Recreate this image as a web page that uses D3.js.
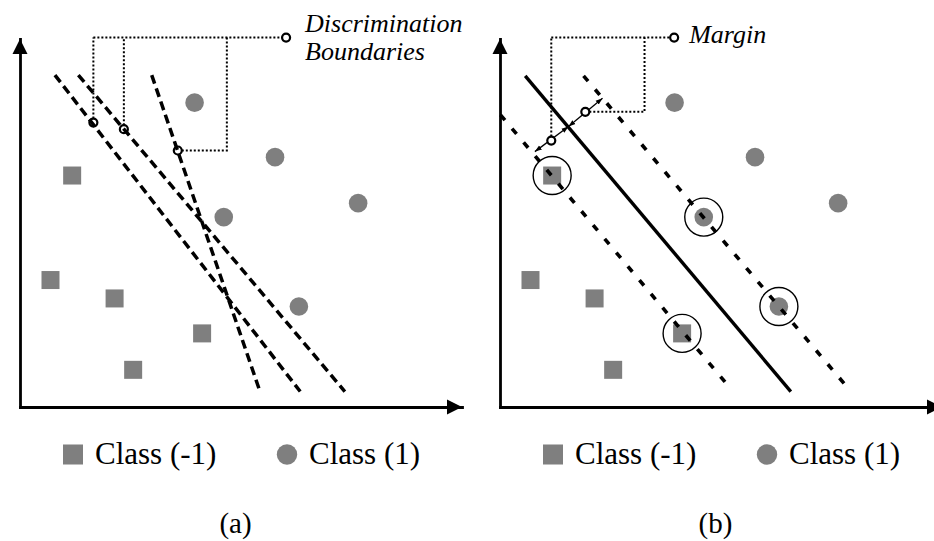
<!DOCTYPE html>
<html><head><meta charset="utf-8">
<script src="https://cdn.jsdelivr.net/npm/d3@7"></script>
<style>html,body{margin:0;padding:0;background:#fff;} svg{display:block;}</style>
</head><body>
<svg id="chart" width="934" height="541"></svg>
<script>
// ---------------- data (plot units, both axes 0..100) ----------------
const classNeg = [[11.8, 62.9], [6.9, 34.5], [21.4, 29.5], [41.2, 20.0], [25.6, 10.1]];   // squares
const classPos = [[39.5, 82.7], [57.7, 67.9], [76.5, 55.4], [46.1, 51.6], [63.1, 27.3]];   // circles
const boundariesA = [
  [[7.9, 90.2], [63.4, 4.2]],
  [[13.2, 90.2], [73.5, 4.2]],
  [[29.8, 90.2], [54.3, 4.2]]
];
const hyperplaneB = [[5.7, 90.0], [65.8, 4.2]];
const marginsB = [
  [[0.1, 79.4], [52.1, 5.1]],
  [[18.9, 90.0], [79.4, 4.2]]
];
const supportNeg = [0, 3];
const supportPos = [3, 4];
const marginArrowsB = [
  [[7.9, 69.4], [15.5, 76.2]],
  [[15.5, 76.2], [23.2, 83.9]]
];
const annotationA = { labels: ["Discrimination", "Boundaries"], tip: [60.2, 100.4],
  pins: [[16.6, 77.3], [23.5, 75.5], [35.7, 69.7]], elbows: [null, null, 46.8] };
const annotationB = { labels: ["Margin"], tip: [39.4, 100.4],
  pins: [[11.6, 72.4], [19.3, 80.2]], elbows: [null, 32.7] };
const legendLabels = ["Class (-1)", "Class (1)"];
const panelLabels = ["(a)", "(b)"];

// ---------------- drawing ----------------
const svg = d3.select("#chart");
const GRAY = "#7f7f7f";
const SERIF = "'Liberation Serif','Times New Roman',Times,serif";

const x = d3.scaleLinear().domain([0, 100]).range([20, 462]);
const y = d3.scaleLinear().domain([0, 100]).range([407, 39]);

const defs = svg.append("defs");
defs.append("marker").attr("id", "arrowhead")
  .attr("viewBox", "0 0 10 10").attr("refX", 10).attr("refY", 5)
  .attr("markerWidth", 7).attr("markerHeight", 7).attr("markerUnits", "userSpaceOnUse")
  .attr("orient", "auto-start-reverse")
  .append("path").attr("d", "M0,1.5L10,5L0,8.5Z").attr("fill", "#000");

const line = d3.line().x(d => x(d[0])).y(d => y(d[1]));

function drawPanel(g, panel) {
  // axes without ticks
  const ax = g.append("g").attr("transform", `translate(0,${y(0)})`)
    .call(d3.axisBottom(x).tickValues([]).tickSizeOuter(0));
  const ay = g.append("g").attr("transform", `translate(${x(0)},0)`)
    .call(d3.axisLeft(y).tickValues([]).tickSizeOuter(0));
  [ax, ay].forEach(a => a.select(".domain").attr("stroke", "#000").attr("stroke-width", 2.8)
    .attr("stroke-linecap", "square"));
  // arrowheads
  const L = 15, W = 7.5;
  g.append("path").attr("fill", "#000")
    .attr("d", `M${x(100)},${y(0)}L${x(100) - L},${y(0) - W}L${x(100) - L},${y(0) + W}Z`);
  g.append("path").attr("fill", "#000")
    .attr("d", `M${x(0)},${y(100)}L${x(0) - W},${y(100) + L}L${x(0) + W},${y(100) + L}Z`);

  // points
  const S = 18;
  g.selectAll(".sq").data(classNeg).join("rect").attr("class", "sq")
    .attr("x", d => x(d[0]) - S / 2).attr("y", d => y(d[1]) - S / 2)
    .attr("width", S).attr("height", S).attr("fill", GRAY);
  g.selectAll(".ci").data(classPos).join("circle").attr("class", "ci")
    .attr("cx", d => x(d[0])).attr("cy", d => y(d[1])).attr("r", 9.3).attr("fill", GRAY);

  const ann = panel === 0 ? annotationA : annotationB;

  // dotted callout connectors
  const dotted = g.append("g").attr("fill", "none").attr("stroke", "#000")
    .attr("stroke-width", 2).attr("stroke-dasharray", "2,2");
  const minX = d3.min(ann.pins, d => d[0]);
  dotted.append("path").attr("d", `M${x(minX)},${y(ann.tip[1])}H${x(ann.tip[0])}`);
  ann.pins.forEach((p, i) => {
    const e = ann.elbows[i];
    const d = e == null
      ? `M${x(p[0])},${y(p[1])}V${y(ann.tip[1])}`
      : `M${x(p[0])},${y(p[1])}H${x(e)}V${y(ann.tip[1])}`;
    dotted.append("path").attr("d", d);
  });

  const smallCircles = [...ann.pins, ann.tip];

  if (panel === 0) {
    g.selectAll(".pin").data(smallCircles).join("circle").attr("class", "pin")
      .attr("cx", d => x(d[0])).attr("cy", d => y(d[1])).attr("r", 4)
      .attr("fill", "#fff").attr("stroke", "#000").attr("stroke-width", 2.2);
    g.selectAll(".bd").data(boundariesA).join("path").attr("class", "bd")
      .attr("d", line).attr("fill", "none").attr("stroke", "#000")
      .attr("stroke-width", 3.5).attr("stroke-dasharray", "9,5");
  } else {
    const sv = [...supportNeg.map(i => classNeg[i]), ...supportPos.map(i => classPos[i])];
    g.selectAll(".sv").data(sv).join("circle").attr("class", "sv")
      .attr("cx", d => x(d[0])).attr("cy", d => y(d[1])).attr("r", 19)
      .attr("fill", "none").attr("stroke", "#000").attr("stroke-width", 1.4);
    g.append("path").datum(hyperplaneB).attr("d", line).attr("fill", "none")
      .attr("stroke", "#000").attr("stroke-width", 3.4);
    g.selectAll(".mg").data(marginsB).join("path").attr("class", "mg")
      .attr("d", line).attr("fill", "none").attr("stroke", "#000")
      .attr("stroke-width", 3.6).attr("stroke-dasharray", "7,11");
    g.selectAll(".ma").data(marginArrowsB).join("path").attr("class", "ma")
      .attr("d", line).attr("fill", "none").attr("stroke", "#000").attr("stroke-width", 1.3)
      .attr("marker-start", "url(#arrowhead)").attr("marker-end", "url(#arrowhead)");
    g.selectAll(".pin").data(smallCircles).join("circle").attr("class", "pin")
      .attr("cx", d => x(d[0])).attr("cy", d => y(d[1])).attr("r", 4)
      .attr("fill", "#fff").attr("stroke", "#000").attr("stroke-width", 2.2);
  }

  // annotation label
  const dx = panel === 0 ? 19 : 15;
  const dy0 = ann.labels.length > 1 ? -6 : 5;
  g.selectAll(".ann").data(ann.labels).join("text").attr("class", "ann")
    .attr("x", x(ann.tip[0]) + dx).attr("y", (d, i) => y(ann.tip[1]) + dy0 + i * 28.3)
    .attr("font-family", SERIF).attr("font-style", "italic").attr("font-size", 26)
    .attr("fill", "#000").text(d => d);

  // legend
  const lg = g.append("g");
  lg.append("rect").attr("x", 63).attr("y", 444.5).attr("width", 20).attr("height", 20).attr("fill", GRAY);
  lg.append("circle").attr("cx", 287).attr("cy", 454.5).attr("r", 10.2).attr("fill", GRAY);
  lg.selectAll("text").data(legendLabels).join("text")
    .attr("x", (d, i) => i === 0 ? 95 : 309).attr("y", 464)
    .attr("font-family", SERIF).attr("font-size", 31).attr("fill", "#000").text(d => d);

  // panel caption
  g.append("text").attr("x", 235.5).attr("y", 533).attr("text-anchor", "middle")
    .attr("font-family", SERIF).attr("font-size", 29).attr("fill", "#000").text(panelLabels[panel]);
}

[0, 1].forEach(p => drawPanel(svg.append("g").attr("transform", `translate(${p * 480},0)`), p));
</script>
</body></html>
